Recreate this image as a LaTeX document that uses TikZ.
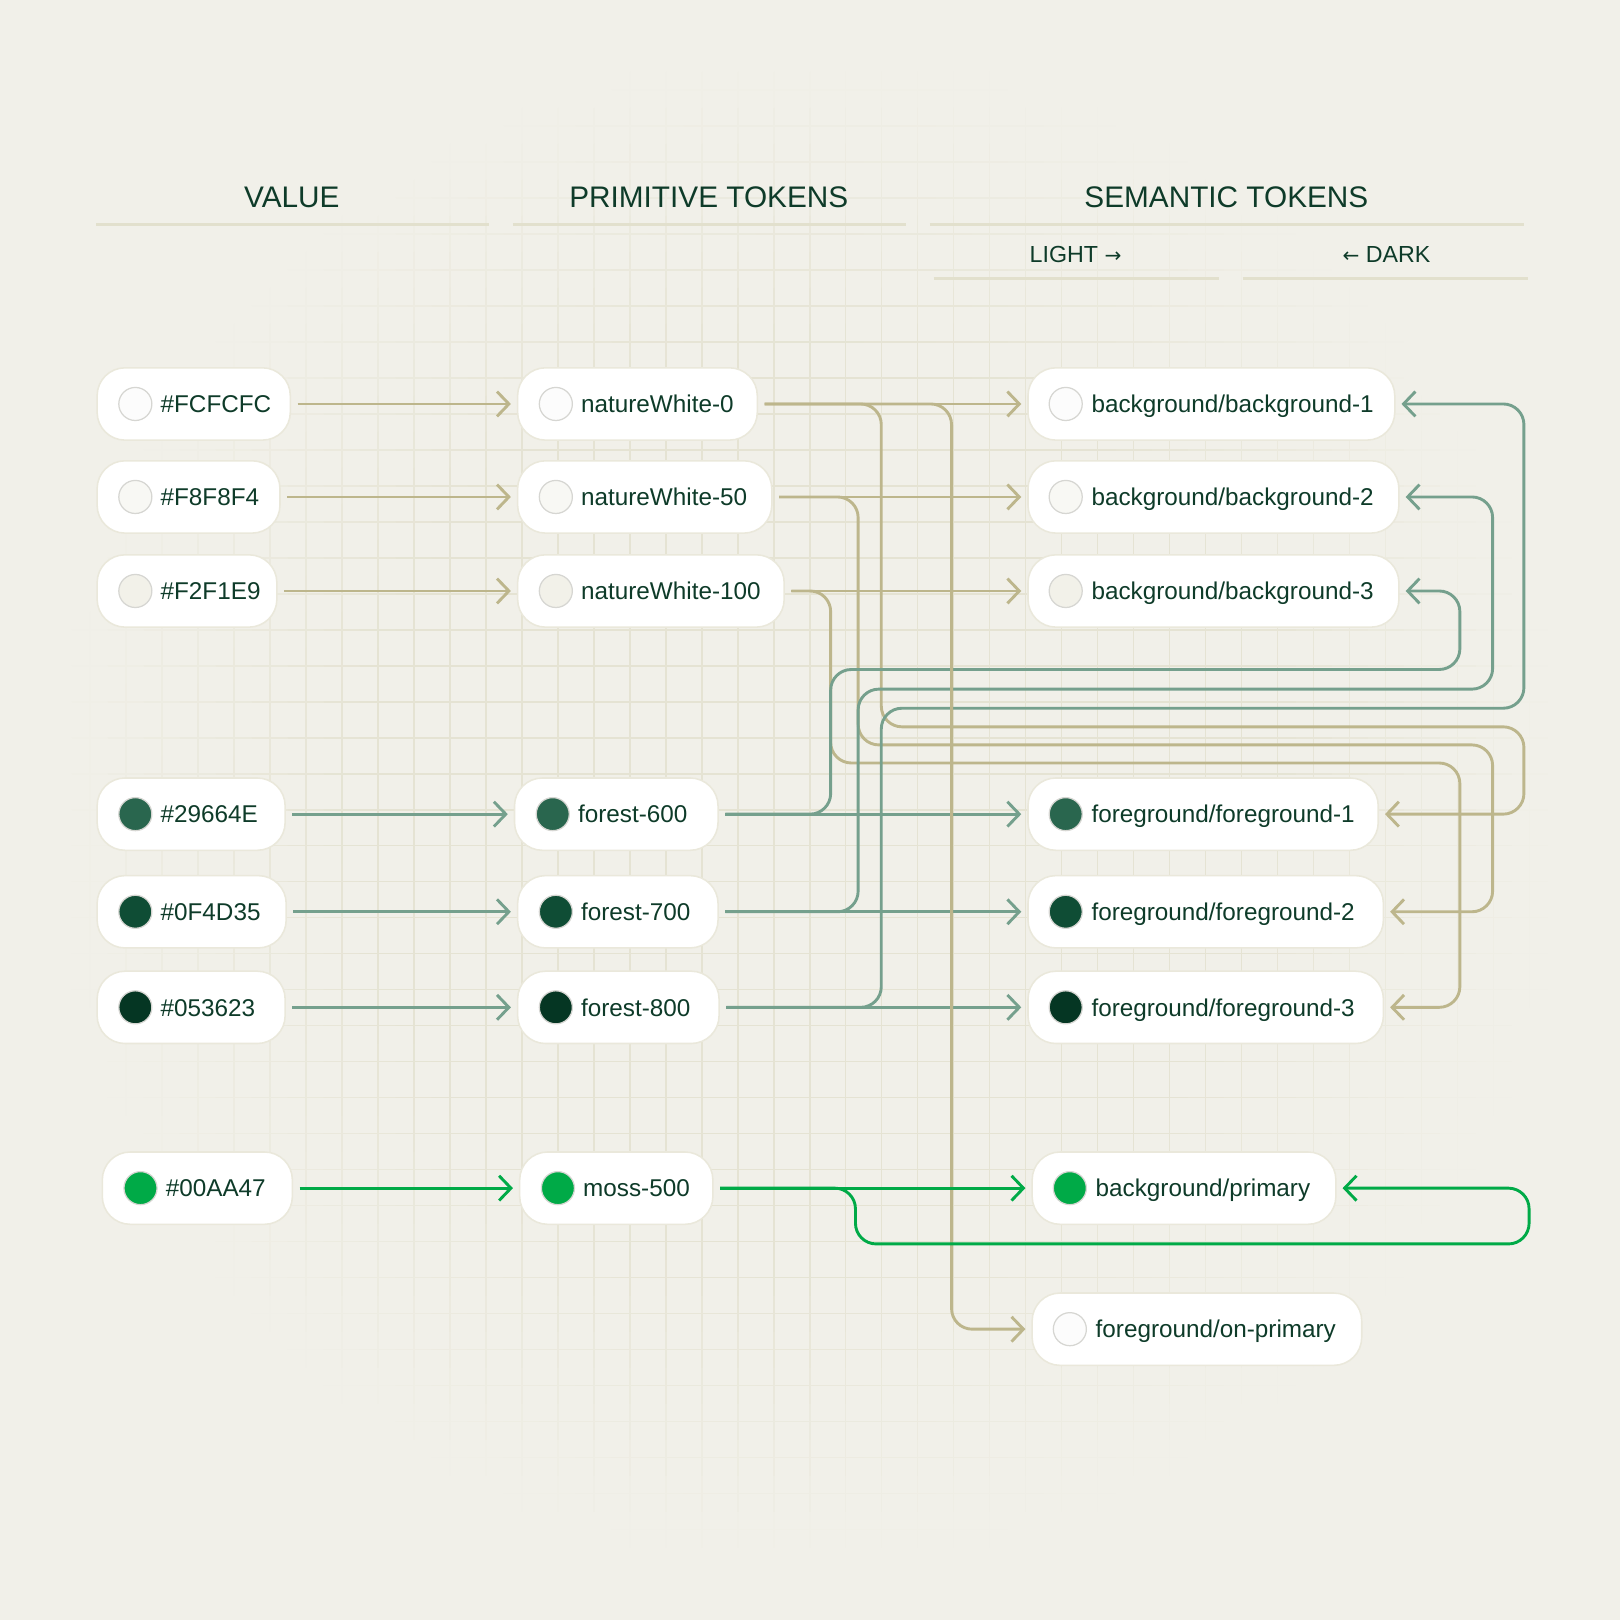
\documentclass[tikz,border=0pt]{standalone}
\usepackage{fontspec}
\setmainfont{Liberation Sans}
\newfontfamily\arrowfont{DejaVu Sans}
\usetikzlibrary{arrows.meta}
\definecolor{bgcol}{HTML}{F1F0E9}
\definecolor{gridcol}{HTML}{E5E3D3}
\definecolor{ulcol}{HTML}{E2E0CD}
\definecolor{txtcol}{HTML}{0E3B29}
\definecolor{beige}{HTML}{BDB68C}
\definecolor{sage}{HTML}{75A08D}
\definecolor{moss}{HTML}{00AA47}
\definecolor{nodeline}{HTML}{EAE8DB}
\definecolor{dotline}{HTML}{D6D6D2}
\definecolor{cFCFCFC}{HTML}{FCFCFC}
\definecolor{cF8F8F4}{HTML}{F8F8F4}
\definecolor{cF2F1E9}{HTML}{F2F1E9}
\definecolor{c29664E}{HTML}{29664E}
\definecolor{c0F4D35}{HTML}{0F4D35}
\definecolor{c053623}{HTML}{053623}
\definecolor{c00AA47}{HTML}{00AA47}
\newcommand\plab[2]{\makebox[#1pt][l]{\hspace*{61.5pt}#2}}
\newcommand\rarr{{\arrowfont\fontsize{19.5}{22}\selectfont →}}
\newcommand\larr{{\arrowfont\fontsize{19.5}{22}\selectfont ←}}
\begin{document}
\begin{tikzpicture}[x=1pt,y=-1pt,
  pill/.style={draw=nodeline, line width=1.5pt, fill=white, rounded corners=27pt,
    minimum height=70pt, inner xsep=0pt, inner ysep=0pt, outer sep=0pt, anchor=west,
    text=txtcol, font=\fontsize{23.5}{28}\selectfont, text height=16.8pt, text depth=0pt},
  head/.style={text=txtcol, font=\fontsize{28.8}{34}\selectfont, text height=20.6pt, text depth=0pt, inner sep=0pt},
  subhead/.style={text=txtcol, font=\fontsize{22.5}{27}\selectfont, text height=16.1pt, text depth=0pt, inner sep=0pt},
  uline/.style={draw=ulcol, line width=3pt},
  conn/.style={line width=2.8pt, rounded corners=20pt, shorten <=7pt, shorten >=6.5pt,
    -{Straight Barb[length=11.5pt,width=24pt]}},
  dot/.style={draw=dotline, line width=1.2pt},
  gridline/.style={line width=1.15pt},
]
\useasboundingbox (0,0) rectangle (1568,1568);
\fill[bgcol] (0,0) rectangle (1568,1568);
% grid, fading out towards the edges
\foreach \i in {0,...,44}{
  \foreach \j in {0,...,44}{
    \pgfmathsetmacro\ga{17.42+34.84*\i}
    \pgfmathsetmacro\gs{34.84*\j}
    \pgfmathsetmacro\ge{34.84*(\j+1)}
    \pgfmathsetmacro\gm{34.84*(\j+0.5)}
    \pgfmathtruncatemacro\gp{max(0,min(100,(730-veclen(\ga-784,\gm-784))/2.9))}
    \ifnum\gp>0
      \draw[gridline, gridcol!\gp!bgcol] (\ga,\gs) -- (\ga,\ge);
      \draw[gridline, gridcol!\gp!bgcol] (\gs,\ga) -- (\ge,\ga);
    \fi
  }
}

% headings
\node[head] (hval) at (282.5,190.4) {VALUE};
\node[head] (hprim) at (686,190.4) {PRIMITIVE TOKENS};
\node[head] (hsem) at (1187,190.4) {SEMANTIC TOKENS};
\draw[uline] (93,217.5) -- (473,217.5);
\draw[uline] (496.5,217.5) -- (877,217.5);
\draw[uline] (900,217.5) -- (1475,217.5);
\node[subhead] (hlight) at (1041,246) {LIGHT \rarr};
\node[subhead] (hdark) at (1342,246) {\larr{} DARK};
\draw[uline] (904,269.5) -- (1180,269.5);
\draw[uline] (1203,269.5) -- (1479,269.5);

% value nodes
\node[pill] (v1) at (94,391) {\plab{187}{\#FCFCFC}};
\node[pill] (v2) at (94,481) {\plab{177}{\#F8F8F4}};
\node[pill] (v3) at (94,572) {\plab{174}{\#F2F1E9}};
\node[pill] (v4) at (94,788) {\plab{182}{\#29664E}};
\node[pill] (v5) at (94,882.5) {\plab{183}{\#0F4D35}};
\node[pill] (v6) at (94,975) {\plab{182}{\#053623}};
\node[pill] (v7) at (99,1150) {\plab{184}{\#00AA47}};
% primitive nodes
\node[pill] (p1) at (501,391) {\plab{232}{natureWhite-0}};
\node[pill] (p2) at (501,481) {\plab{246}{natureWhite-50}};
\node[pill] (p3) at (501,572) {\plab{258}{natureWhite-100}};
\node[pill] (p4) at (498,788) {\plab{197}{forest-600}};
\node[pill] (p5) at (501,882.5) {\plab{194}{forest-700}};
\node[pill] (p6) at (501,975) {\plab{195}{forest-800}};
\node[pill] (p7) at (503,1150) {\plab{187}{moss-500}};
% semantic nodes
\node[pill] (s1) at (995,391) {\plab{355}{background/background-1}};
\node[pill] (s2) at (995,481) {\plab{359}{background/background-2}};
\node[pill] (s3) at (995,572) {\plab{359}{background/background-3}};
\node[pill] (s4) at (995,788) {\plab{339}{foreground/foreground-1}};
\node[pill] (s5) at (995,882.5) {\plab{344}{foreground/foreground-2}};
\node[pill] (s6) at (995,975) {\plab{344}{foreground/foreground-3}};
\node[pill] (s7) at (999,1150) {\plab{294}{background/primary}};
\node[pill] (s8) at (999,1286.5) {\plab{319}{foreground/on-primary}};

% swatches
\draw[dot, fill=cFCFCFC] ([xshift=37pt]v1.west) circle[radius=16pt];
\draw[dot, fill=cF8F8F4] ([xshift=37pt]v2.west) circle[radius=16pt];
\draw[dot, fill=cF2F1E9] ([xshift=37pt]v3.west) circle[radius=16pt];
\draw[dot, fill=c29664E] ([xshift=37pt]v4.west) circle[radius=16pt];
\draw[dot, fill=c0F4D35] ([xshift=37pt]v5.west) circle[radius=16pt];
\draw[dot, fill=c053623] ([xshift=37pt]v6.west) circle[radius=16pt];
\draw[dot, fill=c00AA47] ([xshift=37pt]v7.west) circle[radius=16pt];
\draw[dot, fill=cFCFCFC] ([xshift=37pt]p1.west) circle[radius=16pt];
\draw[dot, fill=cF8F8F4] ([xshift=37pt]p2.west) circle[radius=16pt];
\draw[dot, fill=cF2F1E9] ([xshift=37pt]p3.west) circle[radius=16pt];
\draw[dot, fill=c29664E] ([xshift=37pt]p4.west) circle[radius=16pt];
\draw[dot, fill=c0F4D35] ([xshift=37pt]p5.west) circle[radius=16pt];
\draw[dot, fill=c053623] ([xshift=37pt]p6.west) circle[radius=16pt];
\draw[dot, fill=c00AA47] ([xshift=37pt]p7.west) circle[radius=16pt];
\draw[dot, fill=cFCFCFC] ([xshift=36.5pt]s1.west) circle[radius=16pt];
\draw[dot, fill=cF8F8F4] ([xshift=36.5pt]s2.west) circle[radius=16pt];
\draw[dot, fill=cF2F1E9] ([xshift=36.5pt]s3.west) circle[radius=16pt];
\draw[dot, fill=c29664E] ([xshift=36.5pt]s4.west) circle[radius=16pt];
\draw[dot, fill=c0F4D35] ([xshift=36.5pt]s5.west) circle[radius=16pt];
\draw[dot, fill=c053623] ([xshift=36.5pt]s6.west) circle[radius=16pt];
\draw[dot, fill=c00AA47] ([xshift=36.5pt]s7.west) circle[radius=16pt];
\draw[dot, fill=cFCFCFC] ([xshift=36.5pt]s8.west) circle[radius=16pt];

% value -> primitive
\draw[conn, beige] (v1.east) -- (p1.west);
\draw[conn, beige] (v2.east) -- (p2.west);
\draw[conn, beige] (v3.east) -- (p3.west);
\draw[conn, sage] (v4.east) -- (p4.west);
\draw[conn, sage] (v5.east) -- (p5.west);
\draw[conn, sage] (v6.east) -- (p6.west);

% light (beige)
\draw[conn, beige] (p1.east) -- (s1.west);
\draw[conn, beige] (p2.east) -- (s2.west);
\draw[conn, beige] (p3.east) -- (s3.west);
% dark (beige)
\draw[conn, beige] (p1.east) -- (853,391) -- (853,703.5) -- (1475,703.5) -- (1475,788) -- (s4.east);
\draw[conn, beige] (p2.east) -- (830.6,481) -- (830.6,721) -- (1444.7,721) -- (1444.7,882.5) -- (s5.east);
\draw[conn, beige] (p3.east) -- (804,572) -- (804,738.5) -- (1413,738.5) -- (1413,975) -- (s6.east);
% light (sage)
\draw[conn, sage] (p4.east) -- (s4.west);
\draw[conn, sage] (p5.east) -- (s5.west);
\draw[conn, sage] (p6.east) -- (s6.west);
% dark (sage)
\draw[conn, sage] (p4.east) -- (804,788) -- (804,648) -- (1413,648) -- (1413,572) -- (s3.east);
\draw[conn, sage] (p5.east) -- (830.6,882.5) -- (830.6,667) -- (1444.7,667) -- (1444.7,481) -- (s2.east);
\draw[conn, sage] (p6.east) -- (853,975) -- (853,685.5) -- (1475,685.5) -- (1475,391) -- (s1.east);
% on-primary
\draw[conn, beige] (p1.east) -- (921,391) -- (921,1286.5) -- (s8.west);
% moss
\draw[conn, moss] (v7.east) -- (p7.west);
\draw[conn, moss] (p7.east) -- (s7.west);
\draw[conn, moss] (p7.east) -- (828,1150) -- (828,1204) -- (1480,1204) -- (1480,1150) -- (s7.east);
\end{tikzpicture}
\end{document}
